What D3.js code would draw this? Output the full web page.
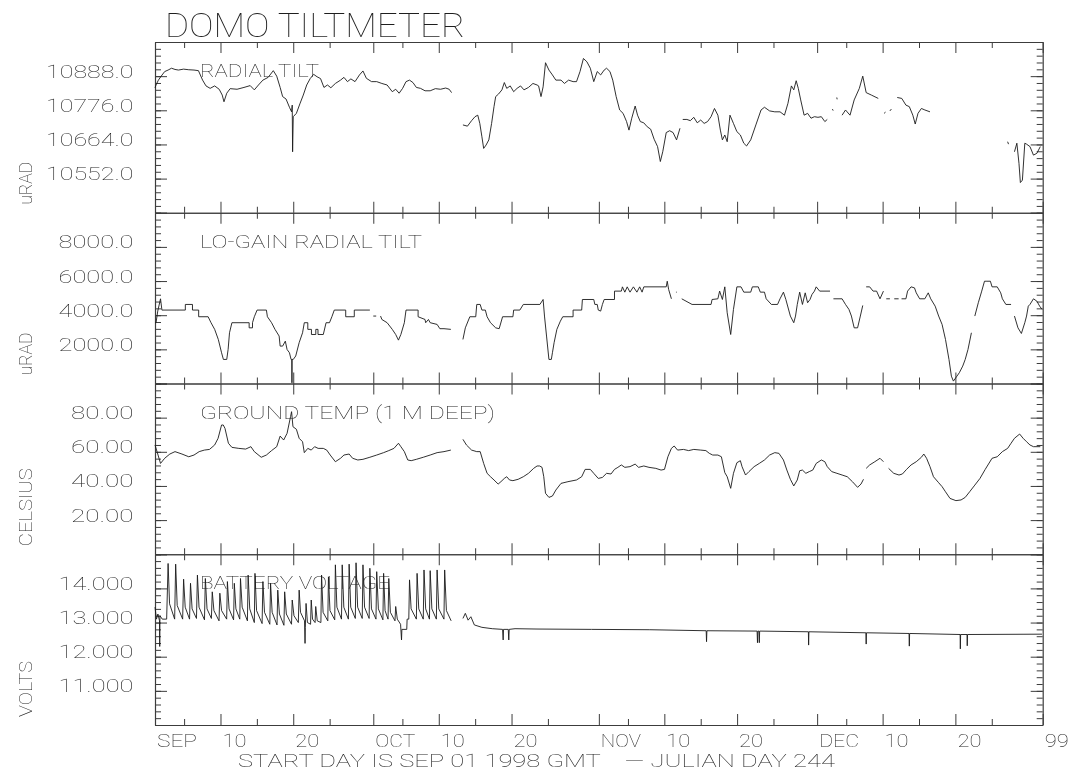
<!DOCTYPE html>
<html>
<head>
<meta charset="utf-8">
<script src="https://cdn.jsdelivr.net/npm/d3@7"></script>
<style>
  html, body { margin: 0; padding: 0; background: #fff; }
  svg { display: block; filter: grayscale(100%); }
  text { font-family: Roboto, "Open Sans", "DejaVu Sans", sans-serif; font-weight: 100; fill: #1e1e1e; }
</style>
</head>
<body>
<svg id="chart" width="1071" height="776"></svg>
<script>
// Time axis: days counted from SEP 01 1998 00:00 GMT (Julian day 244)
const majorTickDays   = [0, 9, 19, 30, 39, 49, 61, 70, 80, 91, 100, 110, 122];
const majorTickLabels = ["SEP", "10", "20", "OCT", "10", "20", "NOV", "10", "20", "DEC", "10", "20", "99"];
const minorTickDays   = [4, 14, 24, 34, 44, 54, 65, 75, 85, 95, 105, 115];

const panelTitles = ["RADIAL TILT", "LO-GAIN RADIAL TILT", "GROUND TEMP (1 M DEEP)", "BATTERY VOLTAGE"];
const panelUnits  = ["uRAD", "uRAD", "CELSIUS", "VOLTS"];

const radialDomain = [10440, 11000];
const radialTicks  = [10552, 10664, 10776, 10888];
const loGainDomain = [0, 10000];
const loGainTicks  = [2000, 4000, 6000, 8000];
const tempDomain   = [0, 100];
const tempTicks    = [20, 40, 60, 80];
const voltDomain   = [10, 15];
const voltTicks    = [11, 12, 13, 14];

// [day, uRAD]; null marks a data gap
const radialTilt = [
  [0.0,10850],[0.14,10859],[0.47,10875],[0.85,10888],[1.33,10903],[1.80,10908],[2.27,10914],[2.75,10910],
  [3.22,10908],[3.93,10911],[4.64,10909],[5.36,10908],[5.97,10906],[6.54,10875],[7.01,10856],[7.58,10848],
  [8.20,10856],[8.82,10845],[9.24,10826],[9.48,10804],[9.86,10832],[10.33,10847],[11.28,10845],[12.23,10851],
  [13.08,10857],[13.65,10843],[14.22,10859],[14.83,10875],[15.55,10884],[16.26,10906],[16.73,10888],[17.20,10851],
  [17.54,10821],[18.01,10813],[18.48,10786],[18.77,10771],[18.86,10793],[18.91,10640],[19.00,10755],[19.43,10766],
  [19.91,10797],[20.38,10826],[20.85,10859],[21.33,10880],[21.80,10894],[22.27,10886],[22.75,10880],[23.22,10851],
  [23.70,10859],[24.17,10850],[24.79,10864],[25.50,10875],[25.97,10884],[26.45,10870],[26.92,10879],[27.49,10870],
  [28.10,10892],[28.58,10905],[29.05,10881],[29.76,10870],[30.47,10870],[31.18,10864],[31.90,10859],[32.61,10837],
  [33.08,10845],[33.55,10832],[34.03,10848],[34.50,10870],[34.98,10875],[35.45,10867],[35.92,10851],[36.49,10848],
  [37.11,10840],[37.82,10840],[38.53,10847],[39.24,10845],[39.95,10849],[40.43,10845],[40.76,10834],
  null,
  [42.32,10728],[42.94,10724],[43.51,10742],[43.98,10755],[44.36,10760],[44.64,10733],[44.93,10689],[45.17,10651],
  [45.50,10662],[45.88,10679],[46.26,10733],[46.59,10788],[46.82,10821],[47.20,10829],[47.68,10843],[48.01,10867],
  [48.34,10848],[48.82,10856],[49.29,10837],[49.76,10848],[50.24,10856],[50.71,10843],[51.33,10851],[51.94,10864],
  [52.51,10859],[52.72,10856],[53.05,10821],[53.34,10853],[53.67,10932],[54.14,10908],[54.62,10892],[55.09,10875],
  [55.80,10875],[56.27,10864],[56.84,10875],[57.46,10870],[57.93,10870],[58.41,10903],[58.88,10946],[59.36,10935],
  [59.83,10914],[60.30,10870],[60.78,10903],[61.25,10892],[61.73,10908],[62.06,10914],[62.53,10903],[62.91,10875],
  [63.38,10821],[63.86,10777],[64.33,10766],[64.81,10739],[65.14,10711],[65.52,10750],[65.99,10790],[66.32,10760],
  [66.70,10739],[67.17,10735],[67.65,10722],[68.12,10714],[68.60,10681],[69.07,10657],[69.45,10608],[69.78,10640],
  [70.26,10703],[70.73,10709],[71.20,10703],[71.68,10679],[72.15,10717],
  null,
  [72.53,10746],[73.10,10746],[73.57,10742],[74.05,10753],[74.52,10735],[75.00,10744],[75.47,10733],[75.94,10739],
  [76.42,10755],[76.89,10782],[77.36,10760],[77.70,10711],[77.98,10679],[78.31,10695],[78.64,10673],[79.02,10760],
  [79.50,10733],[79.97,10706],[80.45,10695],[80.92,10668],[81.30,10659],[81.87,10679],[82.58,10728],[83.29,10777],
  [83.76,10786],[84.47,10774],[85.18,10771],[85.90,10771],[86.51,10760],[86.99,10799],[87.46,10856],[87.79,10843],
  [88.12,10873],[88.41,10848],[88.74,10810],[89.21,10760],[89.69,10766],[90.16,10750],[90.63,10755],[91.11,10753],
  [91.58,10755],[92.06,10739],[92.39,10746],
  null,
  [93.10,10780],[93.20,10775],
  null,
  [93.70,10818],[93.75,10812],
  null,
  [94.43,10760],[94.90,10777],[95.52,10760],[96.09,10810],[96.80,10848],[97.27,10888],[97.74,10834],[98.45,10826],
  [99.40,10815],
  null,
  [100.2,10766],[100.4,10770],
  null,
  [101.0,10774],[101.2,10780],
  null,
  [102.01,10818],[102.63,10815],[103.20,10793],[103.67,10788],[104.15,10760],[104.48,10731],[104.86,10766],
  [105.33,10782],[105.81,10777],[106.51,10771],
  null,
  [117.18,10673],[117.30,10665],
  null,
  [118.12,10640],[118.45,10668],[118.74,10602],[118.93,10539],[119.21,10547],[119.54,10668],[119.78,10665],
  [120.25,10657],[120.73,10629],[121.20,10635],[121.67,10657]
];

// [day, uRAD]; quantised low-gain channel
const loGainTilt = [
  [0.0,3560],[0.14,3560],[0.38,4240],[0.76,4960],[0.95,4300],[4.17,4300],[4.17,4630],[5.15,4630],[5.15,4300],
  [6.0,4300],[6.0,3910],[7.3,3910],[7.7,3560],[8.2,3170],[8.7,2580],[9.15,1800],[9.4,1410],[9.86,1410],
  [10.05,2000],[10.24,2970],[10.57,3560],[12.94,3560],[12.94,3260],[13.4,3260],[13.4,3560],[13.65,3910],
  [14.03,4300],[15.31,4300],[15.45,3910],[16.02,3560],[16.49,3170],[17.06,2780],[17.2,2190],[17.54,2190],
  [17.91,2480],[18.15,1990],[18.48,1800],[18.7,1410],[18.8,1410],[18.82,40],[18.84,1410],[19.0,1410],
  [19.34,1610],[19.81,2390],[20.28,2970],[20.52,3560],[21.0,3560],[21.0,3170],[21.5,3170],[21.5,2870],
  [22.1,2870],[22.1,3170],[22.4,3170],[22.4,2870],[23.13,2870],[23.51,3560],[23.98,3560],[24.31,3910],
  [24.64,4300],[26.21,4300],[26.21,3910],[27.39,3910],[27.39,4300],[29.53,4300],
  null,
  [30.0,3950],[30.4,3950],
  null,
  [31.0,3950],[31.18,3750],[31.9,3560],[32.61,3170],[33.08,2870],[33.46,2540],[33.79,2870],[34.27,3560],
  [34.5,4300],[36.16,4300],[36.16,3910],[37.11,3750],[37.2,3560],[37.58,3750],[37.82,3560],[38.77,3460],
  [39.15,3210],[39.72,3210],[40.66,3170],
  null,
  [42.32,2580],[42.65,3260],[43.27,3910],[44.08,3910],[44.22,4630],[44.69,4630],[44.93,4300],[45.4,4300],
  [45.64,3910],[46.11,3560],[46.82,3260],[47.30,3210],[47.77,3910],[49.19,3910],[49.29,4300],[50.14,4300],
  [50.62,4630],[52.9,4630],[53.34,4920],[53.53,3950],[53.81,2780],[54.14,1410],[54.47,1410],[54.62,1800],
  [54.85,2390],[55.23,3170],[55.71,3650],[56.04,3910],[57.46,3910],[57.46,4300],[58.64,4300],[58.74,4920],
  [60.30,4920],[60.45,4630],[60.78,4630],[60.92,4300],[61.25,4240],[61.49,4630],[61.73,4920],[63.15,4920],
  [63.15,5410],[64.09,5410],[64.24,5660],[64.57,5350],[64.90,5660],[65.28,5350],[65.75,5660],[66.23,5350],
  [66.61,5660],[66.94,5350],[67.18,5660],[70.26,5660],[70.40,5990],[70.59,5510],[70.97,4960],
  null,
  [71.6,5350],[71.7,5350],
  null,
  [72.39,4960],[73.81,4630],[76.42,4630],[76.56,4920],[77.36,4960],[77.60,5410],[77.98,4920],[78.31,5660],
  [78.64,4140],[79.12,2870],[79.50,4340],[79.97,5660],[80.54,5660],[80.92,5350],[81.87,5350],[82.10,5660],
  [82.91,5660],[83.19,5350],[83.76,5350],[84.0,4960],[84.71,4630],[85.56,4630],[85.90,4960],[86.37,5350],
  [86.70,4920],[87.32,3950],[87.79,3560],[88.03,3950],[88.27,4630],[88.60,5350],[88.98,4630],[89.36,5310],
  [89.69,4730],[90.02,4920],[90.30,5220],[90.63,5410],[90.87,5660],[91.35,5410],[92.77,5410],
  null,
  [93.24,4960],[94.43,4960],[94.90,4630],[95.37,4340],[95.71,3950],[96.09,3260],[96.56,3260],[96.94,3950],
  [97.27,4570],
  null,
  [97.74,5660],[98.22,5660],[98.69,5410],[99.17,5410],[99.64,4960],[100.11,5410],
  null,
  [100.5,4960],[101.0,4960],
  null,
  [101.6,4960],[102.2,4960],
  null,
  [102.6,4960],[103.20,4960],[103.43,5410],[103.91,5660],[104.38,5600],[104.62,5310],[105.09,4960],[105.80,4960],
  [106.27,5310],[106.61,4960],[107.22,4530],[107.70,3950],[108.17,3460],[108.64,2580],[109.12,1410],[109.45,430],
  [109.73,140],[110.21,430],[110.54,630],[111.01,1020],[111.35,1410],[111.73,1990],[112.20,2970],
  null,
  [112.67,3950],[113.15,4730],[113.62,5410],[114.0,5990],[114.33,5990],[114.81,5990],[115.04,5660],[115.75,5660],
  [116.23,5310],[116.46,4960],[116.94,4630],[117.65,4630],
  null,
  [118.12,3950],[118.60,3260],[119.07,2930],[119.54,3560],[119.78,3950],[120.02,4530],[120.25,4630],[120.73,4960],
  [121.20,4820],[121.58,4530],[121.91,4340]
];

// [day, deg C]
const groundTemp = [
  [0.0,64.0],[0.28,60.1],[0.76,53.2],[1.33,56.2],[2.04,58.7],[2.75,60.1],[3.70,58.7],[4.64,57.1],[5.36,58.1],
  [6.07,60.1],[6.78,61.0],[7.49,61.4],[8.20,64.0],[8.67,67.9],[9.15,75.7],[9.38,75.7],[9.62,73.7],[10.09,65.0],
  [10.57,62.6],[11.52,62.0],[12.46,61.6],[13.18,63.0],[13.65,60.1],[14.60,56.8],[15.31,58.1],[16.02,60.7],
  [16.73,63.0],[17.20,69.2],[17.68,66.9],[18.15,70.8],[18.63,80.6],[18.77,83.5],[18.96,74.7],[19.43,73.2],
  [19.81,67.9],[20.28,65.9],[20.52,59.5],[21.0,62.0],[21.47,61.0],[21.94,63.0],[22.42,62.0],[23.13,62.0],
  [23.60,61.0],[24.08,58.1],[24.79,54.2],[25.50,56.2],[25.97,58.1],[26.68,58.7],[27.16,56.2],[27.87,55.2],
  [28.58,55.6],[29.53,56.8],[30.47,58.1],[31.42,59.5],[32.13,60.7],[32.84,62.0],[33.46,65.0],[33.79,63.0],
  [34.27,60.1],[34.74,55.2],[35.21,54.8],[35.92,55.6],[36.87,56.8],[37.82,58.1],[38.77,59.5],[39.72,60.1],
  [40.66,61.0],
  null,
  [42.32,67.3],[42.80,64.0],[43.51,61.0],[44.22,60.1],[44.69,60.1],[45.17,53.2],[45.64,47.4],[46.11,45.4],
  [46.59,43.5],[47.16,41.1],[47.54,42.5],[48.01,44.4],[48.34,45.4],[48.72,43.5],[49.19,43.1],[49.91,43.9],
  [50.62,45.4],[51.33,47.4],[52.04,50.3],[52.51,51.7],[52.86,51.7],[53.19,50.9],[53.43,45.4],[53.67,35.7],
  [54.14,33.3],[54.62,34.1],[55.09,37.6],[55.80,41.5],[56.75,42.5],[57.93,43.5],[58.64,45.4],[59.12,49.7],
  [59.83,49.7],[60.30,47.4],[60.92,44.4],[61.49,45.0],[62.06,47.4],[62.67,47.0],[63.15,49.7],[63.62,50.9],
  [64.09,52.3],[64.57,50.9],[65.28,51.3],[65.99,52.8],[66.46,50.9],[67.18,51.7],[67.89,50.9],[68.83,50.3],
  [69.55,49.3],[70.02,49.7],[70.49,57.1],[70.97,62.0],[71.35,63.4],[71.82,61.0],[72.63,61.4],[73.34,60.7],
  [74.05,61.4],[75.0,61.0],[75.71,60.7],[76.18,59.1],[76.65,58.1],[77.36,58.1],[77.84,57.1],[78.31,47.8],
  [78.64,45.4],[79.12,38.6],[79.50,47.4],[79.97,53.6],[80.45,54.8],[80.68,51.3],[81.16,46.4],[81.63,48.4],
  [82.34,51.3],[83.05,53.2],[83.76,55.2],[84.47,58.1],[85.18,59.5],[85.75,59.1],[86.37,55.2],[86.84,49.3],
  [87.32,43.9],[87.79,40.0],[88.27,43.5],[88.60,48.9],[88.98,49.3],[89.45,47.4],[89.92,48.4],[90.40,49.3],
  [90.87,53.2],[91.58,55.2],[92.06,54.2],[92.39,51.3],[93.0,48.4],[93.72,47.4],[94.43,46.4],[95.14,45.4],
  [95.85,42.5],[96.56,39.2],[97.03,41.1],[97.37,43.9],
  null,
  [97.74,50.3],[98.22,52.3],[98.93,54.2],[99.64,56.2],[100.11,54.2],
  null,
  [100.82,50.3],[101.53,47.4],[102.25,46.4],[102.72,47.0],[103.29,49.7],[103.91,52.3],[104.62,54.2],
  [105.33,56.8],[105.66,58.7],[106.04,56.2],[106.51,51.3],[106.99,45.4],[107.70,41.9],[108.17,39.6],
  [108.64,36.6],[109.26,32.7],[110.07,31.4],[110.78,31.8],[111.35,33.3],[111.96,36.6],[112.67,40.5],
  [113.38,44.4],[114.10,49.7],[115.04,56.2],[115.75,57.1],[116.46,60.1],[117.18,62.0],[117.65,65.0],
  [118.12,67.9],[118.83,70.4],[119.31,67.9],[119.78,65.9],[120.25,64.0],[120.73,63.0],[121.67,63.0]
];

// [day, volts]
const batteryVoltage = [
  [0.0,13.45],[0.2,13.1],[0.4,13.25],[0.62,13.05],[0.65,12.3],[0.68,13.2],[1.0,13.1],[1.6,13.1],
  [1.80,14.73],[2.0,13.55],[2.7,13.1],
  [2.84,14.71],[3.05,13.5],[3.8,13.1],
  [3.93,14.27],[4.15,13.45],[4.75,13.1],
  [4.88,14.15],[5.1,13.4],[5.7,13.12],
  [5.83,14.39],[6.05,13.45],[6.8,13.08],
  [6.92,14.29],[7.15,13.4],[7.75,13.12],
  [7.87,13.90],[8.1,13.35],[8.8,13.05],
  [8.91,13.86],[9.15,13.35],[9.85,13.1],
  [9.95,14.20],[10.18,13.4],[10.8,13.08],
  [10.90,14.15],[11.12,13.4],[11.65,13.1],
  [11.75,14.29],[11.98,13.45],[12.7,13.05],
  [12.80,14.39],[13.02,13.4],[13.65,13.0],
  [13.74,14.44],[13.96,13.35],[14.72,12.97],
  [14.83,14.20],[15.05,13.3],[15.78,12.95],
  [15.88,14.15],[16.1,13.3],[16.77,12.93],
  [16.87,13.95],[17.1,13.25],[17.72,12.92],
  [17.82,13.90],[18.05,13.25],[18.76,12.95],
  [18.86,13.66],[19.1,13.2],[19.7,13.0],
  [19.81,13.95],[20.0,13.3],[20.55,13.05],[20.62,12.39],[20.66,12.85],
  [20.76,13.56],[20.95,13.0],[21.38,12.95],
  [21.47,13.66],[21.65,13.1],[22.0,13.0],
  [22.09,13.47],[22.3,13.05],[22.8,13.0],
  [22.89,14.39],[23.1,13.3],[23.75,13.05],
  [23.84,14.34],[24.05,13.35],[24.7,13.08],
  [24.79,14.69],[25.0,13.45],[25.63,13.1],
  [25.73,14.69],[25.95,13.45],[26.58,13.1],
  [26.68,14.71],[26.9,13.45],[27.53,13.12],
  [27.63,14.75],[27.85,13.45],[28.48,13.12],
  [28.58,14.69],[28.8,13.45],[29.43,13.12],
  [29.53,14.59],[29.75,13.4],[30.37,13.1],
  [30.47,14.49],[30.7,13.4],[31.32,13.08],
  [31.42,14.44],[31.62,13.35],[32.03,13.1],
  [32.13,14.29],[32.35,13.3],[32.98,13.05],
  [33.08,13.47],[33.3,13.1],[33.75,12.95],[33.88,12.49],[33.93,12.8],[34.6,12.8],[34.65,13.1],[34.88,13.1],
  [34.98,14.25],[35.2,13.4],[35.92,13.1],
  [36.02,14.44],[36.25,13.4],[36.87,13.1],
  [36.97,14.54],[37.2,13.4],[37.72,13.1],
  [37.82,14.52],[38.05,13.4],[38.67,13.1],
  [38.77,14.54],[39.0,13.4],[39.71,13.1],
  [39.81,14.54],[40.05,13.35],[40.7,13.05],
  null,
  [42.32,13.12],[42.65,13.27],[43.03,13.07],[43.41,13.17],[43.89,12.93],[44.93,12.86],[46.35,12.82],
  [47.77,12.80],[47.85,12.49],[47.9,12.80],[48.55,12.80],[48.62,12.49],[48.68,12.80],[49.48,12.82],
  [52.5,12.81],[60.0,12.80],[68.0,12.79],[75.75,12.76],[75.8,12.44],[75.85,12.76],[82.75,12.75],
  [82.8,12.41],[82.85,12.75],[83.0,12.75],[83.05,12.41],[83.1,12.75],[89.8,12.73],[89.83,12.34],
  [89.87,12.73],[97.7,12.70],[97.74,12.37],[97.78,12.70],[103.63,12.68],[103.67,12.31],[103.71,12.68],
  [110.65,12.65],[110.68,12.23],[110.72,12.65],[111.6,12.65],[111.63,12.32],[111.67,12.65],[121.9,12.66]
];

// ---------------------------------------------------------------- layout
const svg = d3.select("#chart");
const plotLeft = 155, plotRight = 1042.7, plotTop = 42, plotBottom = 725;
const panelH = (plotBottom - plotTop) / 4;
const charW = 12.5;          // width of one character in the stroke-style lettering

const x = d3.scaleLinear().domain([0, 122]).range([plotLeft, plotRight]);

const panels = [
  { title: panelTitles[0], unit: panelUnits[0], domain: radialDomain, ticks: radialTicks, fmt: ".1f", data: radialTilt,     titleLen: 119 },
  { title: panelTitles[1], unit: panelUnits[1], domain: loGainDomain, ticks: loGainTicks, fmt: ".1f", data: loGainTilt,     titleLen: 222 },
  { title: panelTitles[2], unit: panelUnits[2], domain: tempDomain,   ticks: tempTicks,   fmt: ".2f", data: groundTemp,     titleLen: 295 },
  { title: panelTitles[3], unit: panelUnits[3], domain: voltDomain,   ticks: voltTicks,   fmt: ".3f", data: batteryVoltage, titleLen: 190 }
];
const unitLen = { "uRAD": 43, "CELSIUS": 78, "VOLTS": 56 };

function styleAxis(g, stroke) {
  g.selectAll("line").attr("stroke", stroke).attr("stroke-width", 1);
  g.select(".domain").attr("stroke", stroke).attr("stroke-width", 1.2);
}

panels.forEach((p, i) => {
  const top = plotTop + i * panelH;
  const bottom = top + panelH;
  const y = d3.scaleLinear().domain(p.domain).range([bottom, top]);
  const span = p.domain[1] - p.domain[0];
  const majorY = d3.range(6).map(k => p.domain[0] + k * span / 5);
  const minorY = d3.range(26).map(k => p.domain[0] + k * span / 25);
  const g = svg.append("g").attr("class", "panel");

  // inward ticks on all four sides; the domain paths form the frame
  const sides = [
    { axis: d3.axisLeft,   scale: y, at: `translate(${plotLeft},0)`,   minor: minorY,        major: majorY,        lenMin: 6, lenMaj: 12 },
    { axis: d3.axisRight,  scale: y, at: `translate(${plotRight},0)`,  minor: minorY,        major: majorY,        lenMin: 6, lenMaj: 12 },
    { axis: d3.axisTop,    scale: x, at: `translate(0,${top})`,        minor: minorTickDays, major: majorTickDays, lenMin: 6, lenMaj: 11 },
    { axis: d3.axisBottom, scale: x, at: `translate(0,${bottom})`,     minor: minorTickDays, major: majorTickDays, lenMin: 6, lenMaj: 11 }
  ];
  sides.forEach(s => {
    g.append("g").attr("transform", s.at)
      .call(s.axis(s.scale).tickValues(s.minor).tickSize(-s.lenMin).tickSizeOuter(0).tickFormat(""))
      .call(a => { a.select(".domain").remove(); styleAxis(a, "#3c3c3c"); });
    g.append("g").attr("transform", s.at)
      .call(s.axis(s.scale).tickValues(s.major).tickSize(-s.lenMaj).tickSizeOuter(0).tickFormat(""))
      .call(a => styleAxis(a, "#3c3c3c"));
  });

  // value labels: baseline sits on the tick
  g.append("g").attr("transform", `translate(${plotLeft},0)`)
    .call(d3.axisLeft(y).tickValues(p.ticks).tickSize(0).tickPadding(21.5).tickFormat(d3.format(p.fmt)))
    .call(a => {
      a.select(".domain").remove();
      a.attr("font-family", null).attr("font-size", null);
      a.selectAll("text")
        .attr("dy", null).attr("y", 1)
        .attr("font-size", 17.5)
        .attr("textLength", function () { return this.textContent.length * charW; })
        .attr("lengthAdjust", "spacingAndGlyphs");
    });

  // panel caption
  g.append("text")
    .attr("x", 200).attr("y", y(majorY[4]) + 1)
    .attr("font-size", 17.5)
    .attr("textLength", p.titleLen).attr("lengthAdjust", "spacingAndGlyphs")
    .text(p.title);

  // rotated unit label
  g.append("text")
    .attr("transform", `translate(32,${bottom - 8}) rotate(-90)`)
    .attr("font-size", 19)
    .attr("text-anchor", "start")
    .attr("textLength", unitLen[p.unit]).attr("lengthAdjust", "spacingAndGlyphs")
    .text(p.unit);

  // series
  const line = d3.line()
    .defined(d => d !== null)
    .x(d => x(d[0]))
    .y(d => y(d[1]));
  g.append("path")
    .datum(p.data)
    .attr("fill", "none")
    .attr("stroke", "#1a1a1a")
    .attr("stroke-width", 0.9)
    .attr("stroke-linejoin", "round")
    .attr("d", line);
});

// date labels under the bottom panel
svg.append("g").attr("transform", `translate(0,${plotBottom})`)
  .call(d3.axisBottom(x).tickValues(majorTickDays).tickSize(0).tickPadding(0)
        .tickFormat((d, k) => majorTickLabels[k]))
  .call(a => {
    a.select(".domain").remove();
    a.attr("font-family", null).attr("font-size", null);
    a.selectAll("text")
      .attr("dy", null).attr("y", 22).attr("x", 1.5)
      .attr("text-anchor", "start")
      .attr("font-size", 17.5)
      .attr("textLength", function () { return this.textContent.length === 3 ? 40 : 24; })
      .attr("lengthAdjust", "spacingAndGlyphs");
  });

svg.append("text")
  .attr("x", 238).attr("y", 767)
  .attr("font-size", 17.5)
  .attr("textLength", 597).attr("lengthAdjust", "spacingAndGlyphs")
  .attr("xml:space", "preserve")
  .style("white-space", "pre")
  .text("START DAY IS SEP 01 1998 GMT    \u2014 JULIAN DAY 244");

svg.append("text")
  .attr("x", 165).attr("y", 37)
  .attr("font-size", 33)
  .attr("textLength", 300).attr("lengthAdjust", "spacingAndGlyphs")
  .text("DOMO TILTMETER");
</script>
</body>
</html>
